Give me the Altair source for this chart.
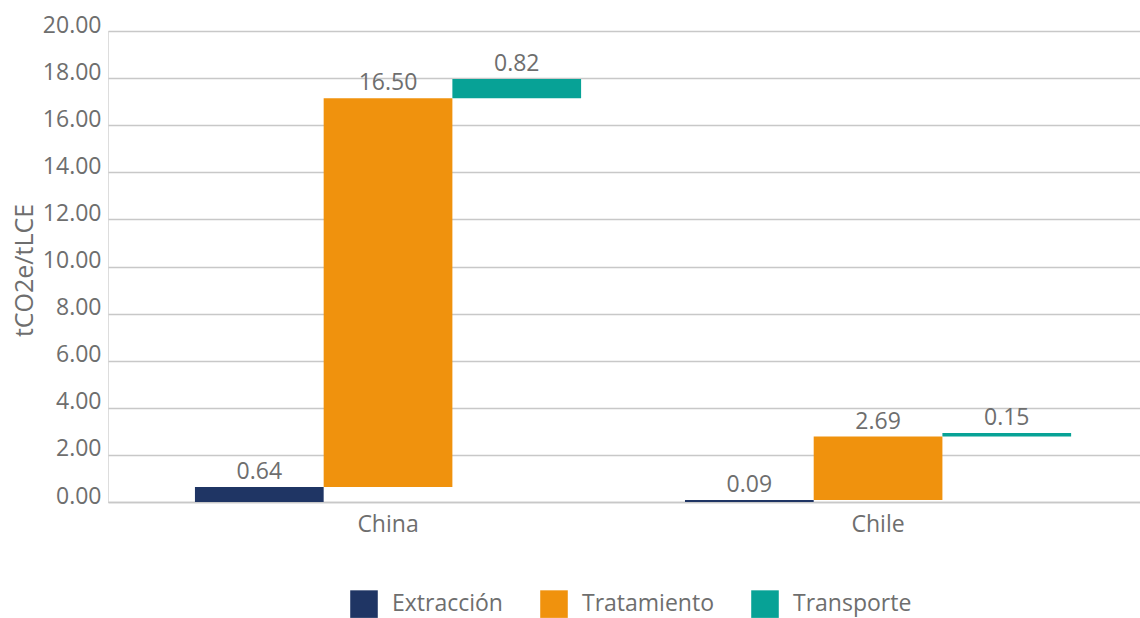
import altair as alt
import pandas as pd

categories = ["China", "Chile"]
series = ["Extracción", "Tratamiento", "Transporte"]
china_vals = [0.64, 16.50, 0.82]
chile_vals = [0.09, 2.69, 0.15]
colors = ["#1F3564", "#F0920D", "#07A296"]

rows = []
for cat, vals in zip(categories, [china_vals, chile_vals]):
    cum = 0.0
    for s, v in zip(series, vals):
        rows.append({"cat": cat, "serie": s, "start": cum, "end": cum + v, "value": v})
        cum += v
df = pd.DataFrame(rows)

FONT = "Open Sans"
GREY = "#6e6e6e"
FS = 23

x = alt.X("cat:N", sort=categories, title=None,
          scale=alt.Scale(paddingInner=0.212, paddingOuter=0.159, align=0.558),
          axis=alt.Axis(labelAngle=0, labelFontSize=FS, labelColor=GREY, labelFont=FONT,
                        ticks=False, domainColor="#c8c8c8", domainWidth=1.5, labelPadding=11))
xo = alt.XOffset("serie:N", sort=series, scale=alt.Scale(paddingInner=0, paddingOuter=0))

base = alt.Chart(df).encode(x=x, xOffset=xo)

bars = base.mark_bar().encode(
    y=alt.Y("start:Q", scale=alt.Scale(domain=[0, 20]),
            axis=alt.Axis(values=[0, 2, 4, 6, 8, 10, 12, 14, 16, 18, 20], format=".2f",
                          labelFontSize=FS, labelColor=GREY, labelFont=FONT, ticks=False,
                          labelBaseline="alphabetic", labelOffset=1,
                          domain=False, gridColor="#c8c8c8", gridWidth=1.5, labelPadding=7,
                          title="tCO2e/tLCE", titleFontSize=25, titleColor=GREY, titleFont=FONT,
                          titleFontWeight="normal", titleAngle=-90, titleX=-84, titleY=239,
                          titleAlign="center", titleBaseline="middle")),
    y2="end:Q",
    color=alt.Color("serie:N", sort=series,
                    scale=alt.Scale(domain=series, range=colors),
                    legend=alt.Legend(title=None, orient="none", direction="horizontal",
                                      legendX=242, legendY=559, symbolType="square",
                                      symbolSize=760, symbolStrokeWidth=0, symbolOpacity=1,
                                      labelFontSize=FS, labelColor=GREY, labelFont=FONT,
                                      labelOffset=14, columnPadding=37)),
)

labels = base.mark_text(baseline="bottom", dy=-3, fontSize=FS, color=GREY, font=FONT).encode(
    y=alt.Y("end:Q"),
    text=alt.Text("value:Q", format=".2f"),
)

chart = alt.layer(bars, labels).properties(
    width=1032, height=471,
    autosize=alt.AutoSizeParams(type="none"),
    padding={"left": 108, "top": 31, "right": 0, "bottom": 116},
).configure_view(stroke=None).configure(background="white")

chart.save("out.html", embed_options={"renderer": "svg", "actions": False})
